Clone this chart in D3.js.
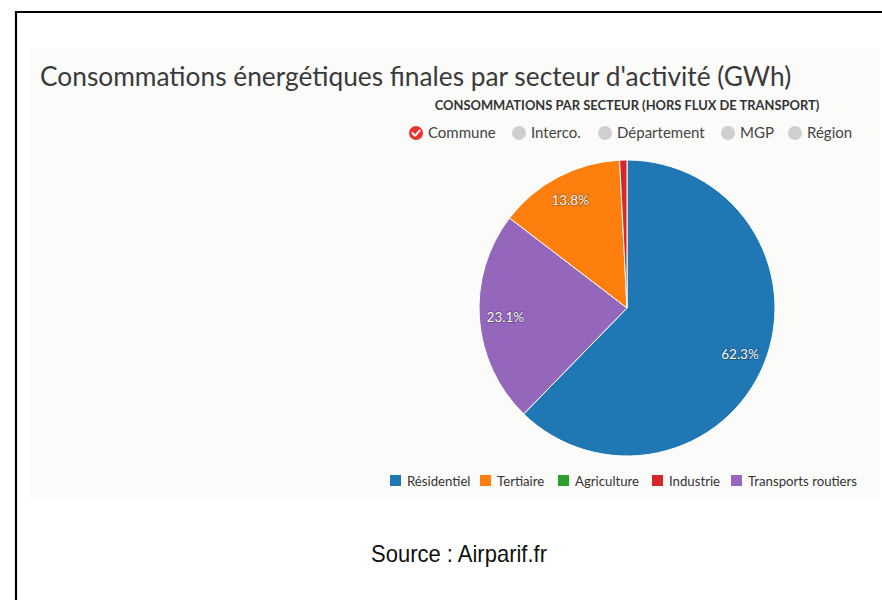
<!DOCTYPE html>
<html>
<head>
<meta charset="utf-8">
<script src="https://cdn.jsdelivr.net/npm/d3@7"></script>
<style>
  html, body { margin: 0; padding: 0; background: #ffffff; }
  svg { display: block; }
</style>
</head>
<body>
<svg id="chart" width="882" height="600"></svg>
<script>
// Sectors in legend order, with their share of final energy consumption (%)
const categories = ["Résidentiel", "Tertiaire", "Agriculture", "Industrie", "Transports routiers"];
const shares = [62.3, 13.8, 0.0, 0.8, 23.1];
const colors = ["#1f77b4", "#ff7f0e", "#2ca02c", "#d62728", "#9467bd"];
// Order in which the slices are laid out clockwise from 12 o'clock
const sliceOrder = ["Résidentiel", "Transports routiers", "Tertiaire", "Agriculture", "Industrie"];
// Territorial level selector
const levels = ["Commune", "Interco.", "Département", "MGP", "Région"];
const selectedLevel = "Commune";

const titleText = "Consommations énergétiques finales par secteur d'activité (GWh)";
const subtitleText = "CONSOMMATIONS PAR SECTEUR (HORS FLUX DE TRANSPORT)";
const sourceText = "Source : Airparif.fr";

const svg = d3.select("#chart");
const uiFont = "Lato, 'Open Sans', sans-serif";

// Outer frame
svg.append("path")
  .attr("d", "M16,600 V12 H882")
  .attr("fill", "none")
  .attr("stroke", "#000")
  .attr("stroke-width", 2.2);

// Chart panel
svg.append("rect")
  .attr("x", 30).attr("y", 48).attr("width", 850).attr("height", 451)
  .attr("fill", "#fbfbfa");

// Title
svg.append("text")
  .attr("x", 40).attr("y", 86)
  .attr("font-family", uiFont)
  .attr("font-size", 26.3)
  .attr("fill", "#3a3a3a")
  .text(titleText);

// Subtitle
const cx = 627, cy = 308, radius = 148;
svg.append("text")
  .attr("x", cx).attr("y", 110)
  .attr("text-anchor", "middle")
  .attr("font-family", uiFont)
  .attr("font-size", 12.9)
  .attr("font-weight", "bold")
  .attr("fill", "#333")
  .text(subtitleText);

// Level selector (radio-like buttons)
const levelX = [416, 519, 605, 728, 795];
const lvl = svg.append("g").attr("font-family", uiFont).attr("font-size", 15);
levels.forEach((name, i) => {
  const g = lvl.append("g").attr("transform", `translate(${levelX[i]},133)`);
  const on = name === selectedLevel;
  g.append("circle").attr("r", 7).attr("fill", on ? "#e8322b" : "#cfcfcf");
  if (on) {
    g.append("path")
      .attr("d", "M-3.5,0 L-1,2.8 L3.8,-2.6")
      .attr("fill", "none")
      .attr("stroke", "#fff")
      .attr("stroke-width", 2)
      .attr("stroke-linecap", "round")
      .attr("stroke-linejoin", "round");
  }
  g.append("text")
    .attr("x", 12).attr("y", 5)
    .attr("fill", "#444")
    .text(name);
});

// Pie
const data = sliceOrder.map(name => {
  const i = categories.indexOf(name);
  return { name, value: shares[i], color: colors[i] };
});
const pie = d3.pie().sort(null).value(d => d.value);
const arcs = pie(data);
const arc = d3.arc().innerRadius(0).outerRadius(radius);
const labelArc = d3.arc().innerRadius(122).outerRadius(122);

const pg = svg.append("g").attr("transform", `translate(${cx},${cy})`);
pg.selectAll("path.slice")
  .data(arcs.filter(d => d.value > 0))
  .join("path")
  .attr("class", "slice")
  .attr("d", arc)
  .attr("fill", d => d.data.color)
  .attr("stroke", "#ffffff")
  .attr("stroke-width", 1)
  .attr("stroke-linejoin", "round");

pg.selectAll("text.lbl")
  .data(arcs.filter(d => d.value >= 5))
  .join("text")
  .attr("class", "lbl")
  .attr("transform", d => `translate(${labelArc.centroid(d)})`)
  .attr("text-anchor", "middle")
  .attr("dy", "0.35em")
  .attr("font-family", uiFont)
  .attr("font-size", 13.5)
  .attr("fill", "#fff")
  .attr("stroke", "rgba(0,0,0,0.35)")
  .attr("stroke-width", 1.5)
  .attr("paint-order", "stroke")
  .text(d => d.data.value.toFixed(1) + "%");

// Sector legend
const legendX = [390, 480, 558, 652, 731];
const lg = svg.append("g").attr("font-family", uiFont).attr("font-size", 13.2);
categories.forEach((name, i) => {
  const g = lg.append("g").attr("transform", `translate(${legendX[i]},475)`);
  g.append("rect").attr("width", 11).attr("height", 11).attr("fill", colors[i]);
  g.append("text").attr("x", 17).attr("y", 10.5).attr("fill", "#333").text(name);
});

// Source line (condensed sans)
svg.append("text")
  .attr("x", 459).attr("y", 562)
  .attr("text-anchor", "middle")
  .attr("font-family", "'Liberation Sans Narrow', 'Liberation Sans', Arial, sans-serif")
  .attr("font-size", 24)
  .attr("textLength", 176)
  .attr("lengthAdjust", "spacingAndGlyphs")
  .attr("fill", "#111")
  .text(sourceText);
</script>
</body>
</html>
